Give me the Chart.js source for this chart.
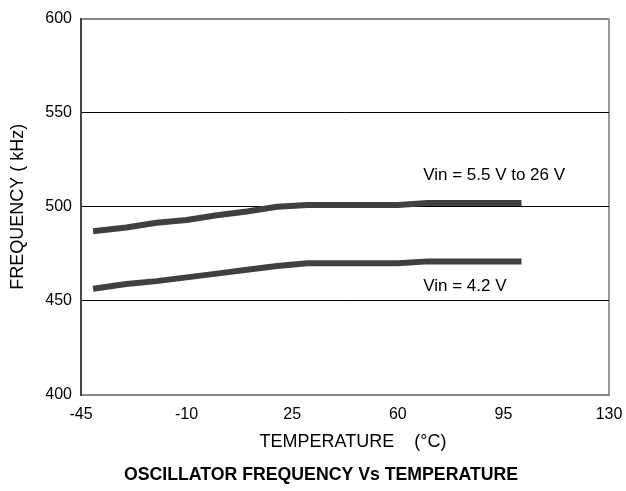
<!DOCTYPE html>
<html>
<head>
<meta charset="utf-8">
<script src="https://cdn.jsdelivr.net/npm/chart.js@4.4.1/dist/chart.umd.min.js"></script>
<style>
  html, body { margin: 0; padding: 0; background: #fff; }
  #wrap { width: 626px; height: 491px; }
</style>
</head>
<body>
<div id="wrap"><canvas id="freqChart" width="626" height="491"></canvas></div>
<script>
// temperature (°C) and frequency (kHz)
const temps = [-41, -30, -20, -10, 0, 10, 20, 30, 40, 50, 60, 70, 80, 90, 101];
const freqHigh = [487, 489, 491.5, 493, 495.5, 497.5, 500, 501, 501, 501, 501, 502, 502, 502, 502];
const freqLow = [456.5, 459, 460.5, 462.5, 464.5, 466.5, 468.5, 470, 470, 470, 470, 471, 471, 471, 471];
const seriesNames = ["Vin = 5.5 V to 26 V", "Vin = 4.2 V"];
const xTicks = [-45, -10, 25, 60, 95, 130];
const yTicks = [400, 450, 500, 550, 600];

const xTitle = "TEMPERATURE    (°C)";
const chartTitle = "OSCILLATOR FREQUENCY Vs TEMPERATURE";

const lineColor = "#404040";
const fontFamily = "'Liberation Sans', Arial, Helvetica, sans-serif";

// label anchors for the two curves (data coordinates)
const curveLabels = [
  { text: seriesNames[0], x: 68.4, y: 516.8 },
  { text: seriesNames[1], x: 68.4, y: 457.9 },
];

const textPlugin = {
  id: "textPlugin",
  afterDraw(chart) {
    const ctx = chart.ctx;
    const xs = chart.scales.x;
    const ys = chart.scales.y;
    ctx.save();
    ctx.fillStyle = "#000";
    ctx.textBaseline = "middle";

    // labels next to the curves
    ctx.font = "17px " + fontFamily;
    ctx.textAlign = "left";
    curveLabels.forEach(function (l) {
      ctx.fillText(l.text, xs.getPixelForValue(l.x), ys.getPixelForValue(l.y));
    });

    // axis title and chart title under the plot
    ctx.textAlign = "center";
    ctx.font = "18px " + fontFamily;
    ctx.fillText(xTitle, 353, 442);
    ctx.font = "bold 17.7px " + fontFamily;
    ctx.fillText(chartTitle, 321, 475);
    ctx.restore();
  },
};

const ctx = document.getElementById("freqChart").getContext("2d");

new Chart(ctx, {
  type: "line",
  data: {
    datasets: [
      {
        label: seriesNames[0],
        data: temps.map((t, i) => ({ x: t, y: freqHigh[i] })),
        borderColor: lineColor,
        borderWidth: 6,
        borderCapStyle: "butt",
        pointRadius: 0,
        tension: 0,
        fill: false,
      },
      {
        label: seriesNames[1],
        data: temps.map((t, i) => ({ x: t, y: freqLow[i] })),
        borderColor: lineColor,
        borderWidth: 6,
        borderCapStyle: "butt",
        pointRadius: 0,
        tension: 0,
        fill: false,
      },
    ],
  },
  options: {
    responsive: false,
    animation: false,
    events: [],
    layout: {
      padding: { left: 0, top: 15, right: 17, bottom: 0 },
    },
    plugins: {
      legend: { display: false },
      tooltip: { enabled: false },
      title: { display: false },
    },
    scales: {
      x: {
        type: "linear",
        min: -45,
        max: 130,
        afterBuildTicks: function (scale) {
          scale.ticks = xTicks.map((v) => ({ value: v }));
        },
        afterFit: function (scale) {
          scale.height = 96;
          scale.paddingLeft = 0;
          scale.paddingRight = 0;
        },
        ticks: {
          color: "#000",
          padding: 10,
          maxRotation: 0,
          font: { family: fontFamily, size: 16 },
        },
        grid: {
          drawTicks: false,
          color: (c) => (c.tick && c.tick.value === 130 ? "#999" : "rgba(0,0,0,0)"),
          lineWidth: 2,
        },
        border: { color: "#888", width: 2 },
      },
      y: {
        type: "linear",
        min: 400,
        max: 600,
        afterBuildTicks: function (scale) {
          scale.ticks = yTicks.map((v) => ({ value: v }));
        },
        afterFit: function (scale) {
          scale.width = 81;
        },
        ticks: {
          color: "#000",
          padding: 9,
          font: { family: fontFamily, size: 16 },
        },
        grid: {
          drawTicks: false,
          color: (c) => {
            if (!c.tick) return "#000";
            if (c.tick.value === 600) return "#888";
            if (c.tick.value === 400) return "rgba(0,0,0,0)";
            return "#000";
          },
          lineWidth: (c) => (c.tick && c.tick.value === 600 ? 2 : 1),
        },
        border: { color: "#444", width: 2 },
        title: {
          display: true,
          text: "FREQUENCY ( kHz)",
          color: "#000",
          font: { family: fontFamily, size: 18 },
          padding: { top: 7, bottom: 0 },
        },
      },
    },
  },
  plugins: [textPlugin],
});
</script>
</body>
</html>
